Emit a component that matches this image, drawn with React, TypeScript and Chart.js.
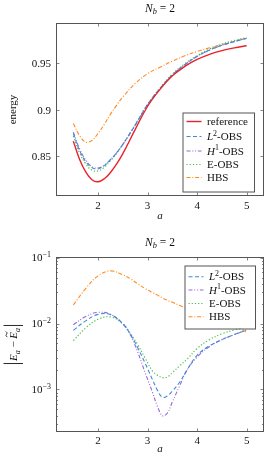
import React, { useEffect, useRef } from 'react';
import { Chart, registerables } from 'chart.js';

Chart.register(...registerables);

// ---------- data ----------
const energyA = [1.5, 1.625, 1.75, 1.875, 2.0, 2.125, 2.25, 2.375, 2.5, 2.75, 3.0, 3.25, 3.5, 3.75, 4.0, 4.25, 4.5, 4.75, 5.0];
const energyReference = [0.8665, 0.8470, 0.8335, 0.8250, 0.8228, 0.8260, 0.8328, 0.8420, 0.8531, 0.8791, 0.9040, 0.9222, 0.9368, 0.9468, 0.9543, 0.9598, 0.9638, 0.9667, 0.9690];
const energyL2 = [0.8746, 0.8565, 0.8445, 0.8380, 0.8366, 0.8402, 0.8465, 0.8540, 0.8631, 0.8839, 0.9059, 0.9230, 0.9378, 0.9486, 0.9576, 0.9644, 0.9695, 0.9735, 0.9770];
const energyH1 = [0.8761, 0.8583, 0.8463, 0.8390, 0.8376, 0.8406, 0.8466, 0.8540, 0.8629, 0.8836, 0.9054, 0.9227, 0.9375, 0.9485, 0.9574, 0.9643, 0.9695, 0.9735, 0.9770];
const energyE = [0.8720, 0.8540, 0.8421, 0.8352, 0.8344, 0.8384, 0.8454, 0.8535, 0.8630, 0.8841, 0.9063, 0.9238, 0.9386, 0.9496, 0.9585, 0.9655, 0.9708, 0.9747, 0.9780];
const energyHBS = [0.8855, 0.8725, 0.8655, 0.8672, 0.8748, 0.8845, 0.8955, 0.9052, 0.9140, 0.9285, 0.9390, 0.9460, 0.9525, 0.9582, 0.9628, 0.9668, 0.9703, 0.9738, 0.9772];

const errorA = [1.5, 1.75, 2.0, 2.25, 2.5, 2.65, 2.8, 2.95, 3.1, 3.2, 3.3, 3.4, 3.5, 3.65, 3.8, 4.0, 4.25, 4.5, 4.75, 5.0];
const errorL2 = [0.0079, 0.0110, 0.0138, 0.0137, 0.0100, 0.0069, 0.0043, 0.0025, 0.0014, 0.00097, 0.00076, 0.0008, 0.00095, 0.0013, 0.0020, 0.0033, 0.0046, 0.0057, 0.0068, 0.0080];
const errorH1 = [0.0096, 0.0128, 0.0148, 0.0138, 0.0098, 0.0068, 0.0037, 0.0018, 0.0009, 0.00055, 0.0004, 0.00044, 0.00065, 0.00115, 0.0020, 0.0031, 0.0045, 0.0057, 0.0068, 0.0080];
const errorE = [0.0055, 0.0086, 0.0116, 0.0126, 0.0099, 0.0071, 0.0048, 0.0030, 0.0019, 0.00165, 0.00151, 0.00155, 0.0018, 0.0023, 0.0029, 0.0042, 0.0057, 0.0070, 0.0080, 0.0090];
const errorHBS = [0.0192, 0.0340, 0.0530, 0.0630, 0.0550, 0.0480, 0.0400, 0.0340, 0.0295, 0.0270, 0.0245, 0.0225, 0.0210, 0.0188, 0.0172, 0.0158, 0.0142, 0.0125, 0.0098, 0.0073];

const xTicks = [2, 3, 4, 5];
const energyTicks = [0.85, 0.9, 0.95];
const errorTickExps = [-3, -2, -1];

// ---------- styling ----------
const FAMILY = '"Liberation Serif", "DejaVu Serif", serif';
const FS = 11;
const FRAME = '#555555';

type Part = { t: string; it?: boolean; sub?: boolean; sup?: boolean; tilde?: boolean; bar?: boolean };

const STYLES: Record<string, { color: string; dash: number[]; width: number }> = {
  ref: { color: '#e8222a', dash: [], width: 1.4 },
  L2: { color: '#3d8bd6', dash: [4, 2.5], width: 1.1 },
  H1: { color: '#9a66dc', dash: [4, 1.8, 1, 1.8, 1, 1.8], width: 1.1 },
  E: { color: '#4dbb4a', dash: [1.2, 2], width: 1.2 },
  HBS: { color: '#ff8a1e', dash: [4, 1.8, 1, 1.8], width: 1.1 },
};

const LABELS: Record<string, Part[]> = {
  ref: [{ t: 'reference' }],
  L2: [{ t: 'L', it: true }, { t: '2', sup: true }, { t: '-OBS' }],
  H1: [{ t: 'H', it: true }, { t: '1', sup: true }, { t: '-OBS' }],
  E: [{ t: 'E-OBS' }],
  HBS: [{ t: 'HBS' }],
};

function partFont(p: Part, size: number) {
  const s = p.sub || p.sup ? size * 0.72 : size;
  return `${p.it ? 'italic ' : ''}${s}px ${FAMILY}`;
}
function partWidth(ctx: CanvasRenderingContext2D, p: Part, size: number) {
  if (p.bar) return 5;
  ctx.font = partFont(p, size);
  return ctx.measureText(p.t).width;
}
function richWidth(ctx: CanvasRenderingContext2D, parts: Part[], size: number) {
  return parts.reduce((s, p) => s + partWidth(ctx, p, size), 0);
}
function drawRich(ctx: CanvasRenderingContext2D, parts: Part[], x: number, baseline: number, size: number, align: 'left' | 'center' | 'right') {
  const w = richWidth(ctx, parts, size);
  let cx = align === 'left' ? x : align === 'center' ? x - w / 2 : x - w;
  ctx.textBaseline = 'alphabetic';
  ctx.textAlign = 'left';
  ctx.fillStyle = '#111';
  for (const p of parts) {
    const pw = partWidth(ctx, p, size);
    if (p.bar) {
      ctx.save();
      ctx.strokeStyle = '#111';
      ctx.lineWidth = 0.9;
      ctx.beginPath();
      ctx.moveTo(cx + 2.5, baseline - 13.5);
      ctx.lineTo(cx + 2.5, baseline + 6);
      ctx.stroke();
      ctx.restore();
      cx += pw;
      continue;
    }
    ctx.font = partFont(p, size);
    const dy = p.sub ? size * 0.25 : p.sup ? -size * 0.4 : 0;
    ctx.fillText(p.t, cx, baseline + dy);
    if (p.tilde) {
      ctx.save();
      ctx.strokeStyle = '#111';
      ctx.lineWidth = 0.8;
      const ty = baseline - size * 0.95;
      const x0 = cx + 1.5, x1 = cx + pw + 0.5;
      const m = (x0 + x1) / 2;
      ctx.beginPath();
      ctx.moveTo(x0, ty + 0.8);
      ctx.quadraticCurveTo((x0 + m) / 2, ty - 1.6, m, ty);
      ctx.quadraticCurveTo((m + x1) / 2, ty + 1.6, x1, ty - 0.8);
      ctx.stroke();
      ctx.restore();
    }
    cx += pw;
  }
}

type Cfg = {
  keys: string[];
  xs: number[];
  ys: number[][];
  log: boolean;
  yMin: number;
  yMax: number;
  padTop: number;
  xAxisHeight: number;
  titleY: number;
  xLabelGap: number;
  aLabelGap: number;
  yLabel: Part[];
  legend: { left: number; top: number; width: number; rows: number[] };
};

function makeDecor(cfg: Cfg) {
  return {
    id: 'decor',
    afterDraw(chart: any) {
      const ctx: CanvasRenderingContext2D = chart.ctx;
      const ca = chart.chartArea;
      const xs = chart.scales.x;
      const ys = chart.scales.y;
      ctx.save();
      ctx.strokeStyle = '#666';
      ctx.lineWidth = 0.8;
      const tick = (x0: number, y0: number, x1: number, y1: number) => {
        ctx.beginPath();
        ctx.moveTo(x0, y0);
        ctx.lineTo(x1, y1);
        ctx.stroke();
      };
      for (const t of xTicks) {
        const px = Math.round(xs.getPixelForValue(t)) + 0.5;
        tick(px, ca.bottom, px, ca.bottom - 3.5);
        tick(px, ca.top, px, ca.top + 3.5);
      }
      const yMajor = cfg.log ? errorTickExps.map((e) => Math.pow(10, e)) : energyTicks;
      for (const v of yMajor) {
        const py = Math.round(ys.getPixelForValue(v)) + 0.5;
        tick(ca.left, py, ca.left + 3.5, py);
        tick(ca.right, py, ca.right - 3.5, py);
      }
      if (cfg.log) {
        for (let e = -4; e <= -1; e++) {
          for (let m = 2; m <= 9; m++) {
            const v = m * Math.pow(10, e);
            if (v < cfg.yMin || v > cfg.yMax) continue;
            const py = Math.round(ys.getPixelForValue(v)) + 0.5;
            tick(ca.left, py, ca.left + 2, py);
            tick(ca.right, py, ca.right - 2, py);
          }
        }
      }
      ctx.strokeStyle = FRAME;
      ctx.lineWidth = 1;
      ctx.strokeRect(Math.round(ca.left) + 0.5, Math.round(ca.top) + 0.5, Math.round(ca.right - ca.left) - 1, Math.round(ca.bottom - ca.top) - 1);

      for (const t of xTicks) {
        drawRich(ctx, [{ t: String(t) }], xs.getPixelForValue(t), ca.bottom + cfg.xLabelGap + 3.6, FS, 'center');
      }
      if (cfg.log) {
        for (const e of errorTickExps) {
          const py = ys.getPixelForValue(Math.pow(10, e));
          drawRich(ctx, [{ t: '10' }, { t: '\u2212' + String(-e), sup: true }], ca.left - 5, py + 3.6, FS, 'right');
        }
      } else {
        for (const v of energyTicks) {
          const py = ys.getPixelForValue(v);
          drawRich(ctx, [{ t: String(v) }], ca.left - 5, py + 3.6, FS, 'right');
        }
      }
      const cx = (ca.left + ca.right) / 2;
      drawRich(ctx, [{ t: 'a', it: true }], cx, ca.bottom + cfg.aLabelGap + 2.5, FS, 'center');
      ctx.save();
      ctx.translate(13, (ca.top + ca.bottom) / 2);
      ctx.rotate(-Math.PI / 2);
      drawRich(ctx, cfg.yLabel, 0, cfg.log ? 4 : 3, FS, 'center');
      ctx.restore();
      drawRich(ctx, [{ t: 'N', it: true }, { t: 'b', it: true, sub: true }, { t: ' = 2' }], cx, cfg.titleY + 3.6, 11.5, 'center');

      const lg = cfg.legend;
      const h = lg.rows[lg.rows.length - 1] - lg.rows[0] + 23;
      ctx.fillStyle = '#ffffff';
      ctx.fillRect(lg.left, lg.top, lg.width, h);
      ctx.strokeStyle = FRAME;
      ctx.lineWidth = 1;
      ctx.strokeRect(lg.left + 0.5, lg.top + 0.5, lg.width, h);
      cfg.keys.forEach((k, i) => {
        const st = STYLES[k];
        const y = lg.rows[i];
        ctx.save();
        ctx.strokeStyle = st.color;
        ctx.lineWidth = st.width;
        ctx.setLineDash(st.dash);
        ctx.beginPath();
        ctx.moveTo(lg.left + 4, y);
        ctx.lineTo(lg.left + 19, y);
        ctx.stroke();
        ctx.restore();
        drawRich(ctx, LABELS[k], lg.left + 24.5, y + 3.6, FS, 'left');
      });
      ctx.restore();
    },
  };
}

function buildChart(canvas: HTMLCanvasElement, cfg: Cfg) {
  const datasets = cfg.keys.map((k, i) => ({
    label: k,
    data: cfg.xs.map((x, j) => ({ x, y: cfg.ys[i][j] })),
    borderColor: STYLES[k].color,
    borderWidth: STYLES[k].width,
    borderDash: STYLES[k].dash,
    pointRadius: 0,
    tension: 0.4,
    fill: false,
  }));
  const hidden = {
    display: true,
    grid: { display: false },
    border: { display: false },
    ticks: { display: false },
  };
  return new Chart(canvas, {
    type: 'line',
    data: { datasets },
    options: {
      animation: false,
      responsive: false,
      events: [],
      layout: { padding: { top: cfg.padTop, right: 1, left: 0, bottom: 0 } },
      plugins: { legend: { display: false }, title: { display: false }, tooltip: { enabled: false } },
      scales: {
        x: {
          ...hidden,
          type: 'linear',
          min: 1.15,
          max: 5.35,
          bounds: 'data',
          afterFit: (s: any) => {
            s.height = cfg.xAxisHeight;
          },
        },
        y: {
          ...hidden,
          type: cfg.log ? 'logarithmic' : 'linear',
          min: cfg.yMin,
          max: cfg.yMax,
          bounds: 'data',
          afterFit: (s: any) => {
            s.width = 56;
          },
        },
      },
    } as any,
    plugins: [makeDecor(cfg)],
  });
}

const topCfg: Cfg = {
  keys: ['ref', 'L2', 'H1', 'E', 'HBS'],
  xs: energyA,
  ys: [energyReference, energyL2, energyH1, energyE, energyHBS],
  log: false,
  yMin: 0.8075,
  yMax: 0.9935,
  padTop: 23,
  xAxisHeight: 32,
  titleY: 8,
  xLabelGap: 9,
  aLabelGap: 20,
  yLabel: [{ t: 'energy' }],
  legend: { left: 182.5, top: 112.5, width: 71.5, rows: [121.5, 136.5, 151, 164.5, 177.5] },
};

const bottomCfg: Cfg = {
  keys: ['L2', 'H1', 'E', 'HBS'],
  xs: errorA,
  ys: [errorL2, errorH1, errorE, errorHBS],
  log: true,
  yMin: Math.pow(10, -3.645),
  yMax: Math.pow(10, -0.99),
  padTop: 29,
  xAxisHeight: 25,
  titleY: 14,
  xLabelGap: 8.5,
  aLabelGap: 17.5,
  yLabel: [
    { t: '', bar: true },
    { t: 'E', it: true },
    { t: 'a', it: true, sub: true },
    { t: ' \u2212 ' },
    { t: 'E', it: true, tilde: true },
    { t: 'a', it: true, sub: true },
    { t: '', bar: true },
  ],
  legend: { left: 184.5, top: 265.5 - 228, width: 70.5, rows: [48.7, 62, 75.5, 88.7] },
};

export default function App() {
  const topRef = useRef<HTMLCanvasElement>(null);
  const botRef = useRef<HTMLCanvasElement>(null);
  useEffect(() => {
    const c1 = buildChart(topRef.current!, topCfg);
    const c2 = buildChart(botRef.current!, bottomCfg);
    return () => {
      c1.destroy();
      c2.destroy();
    };
  }, []);
  return (
    <div style={{ position: 'absolute', left: 0, top: 0, width: 265, height: 457, background: '#fff' }}>
      <canvas ref={topRef} width={265} height={228} style={{ display: 'block', width: 265, height: 228 }} />
      <canvas ref={botRef} width={265} height={229} style={{ display: 'block', width: 265, height: 229 }} />
    </div>
  );
}
